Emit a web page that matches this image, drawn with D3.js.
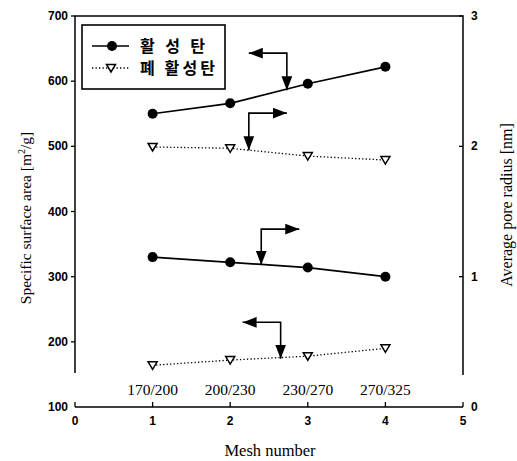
<!DOCTYPE html>
<html>
<head>
<meta charset="utf-8">
<script src="https://cdnjs.cloudflare.com/ajax/libs/d3/7.8.5/d3.min.js"></script>
<style>
  body { margin: 0; background: #fff; }
  .tick-label { font-family: "Liberation Sans", Arial, sans-serif; font-weight: bold; font-size: 12px; }
  .axis-title { font-family: "Liberation Serif", "Times New Roman", serif; font-size: 15.5px; }
  .mesh-label { font-family: "Liberation Serif", "Times New Roman", serif; font-size: 15.5px; }
  .legend-text { font-family: "Noto Sans CJK KR", sans-serif; font-weight: bold; font-size: 16px; }
</style>
</head>
<body>
<svg id="chart" width="517" height="461"></svg>
<script>
// data
var mesh = [1, 2, 3, 4];
var meshLabels = ["170/200", "200/230", "230/270", "270/325"];
var activeSurface = [550, 566, 596, 622];
var spentSurface = [499, 497, 485, 479];
var activeRadius = [1.15, 1.11, 1.07, 1.0];
var spentRadius = [0.32, 0.36, 0.39, 0.45];

var xTicks = [0, 1, 2, 3, 4, 5];
var leftTicks = [100, 200, 300, 400, 500, 600, 700];
var rightTicks = [0, 1, 2, 3];

var seriesNames = ["활성탄", "폐 활성탄"];
var legendWidths = [65, 75];

// arrow annotations, in [mesh, surface area] units
var arrows = [
  [[2.24, 643], [2.73, 643], [2.73, 586]],
  [[2.73, 551], [2.24, 551], [2.24, 494]],
  [[2.89, 373], [2.40, 373], [2.40, 318]],
  [[2.16, 230], [2.65, 230], [2.65, 174]]
];

var svg = d3.select("#chart");

var x = d3.scaleLinear().domain([0, 5]).range([75, 463]);
var yLeft = d3.scaleLinear().domain([100, 700]).range([407, 16]);
var yRight = d3.scaleLinear().domain([0, 3]).range([407, 16]);

var defs = svg.append("defs");
defs.append("marker")
  .attr("id", "head")
  .attr("viewBox", "0 0 13 10")
  .attr("refX", 13)
  .attr("refY", 5)
  .attr("markerWidth", 14)
  .attr("markerHeight", 11)
  .attr("markerUnits", "userSpaceOnUse")
  .attr("orient", "auto-start-reverse")
  .append("path")
  .attr("d", "M0,0 L13,5 L0,10 Z")
  .attr("fill", "#000");

var frameBottom = yLeft(152);

// frame: left, top, right (stops above the mesh labels)
svg.append("path")
  .attr("d", "M" + x(0) + "," + frameBottom + " V" + yLeft(700) + " H" + x(5) + " V" + (frameBottom + 2))
  .attr("fill", "none")
  .attr("stroke", "#000")
  .attr("stroke-width", 1.5);

// bottom axis line
svg.append("line")
  .attr("x1", x(0)).attr("x2", x(5))
  .attr("y1", yLeft(100)).attr("y2", yLeft(100))
  .attr("stroke", "#000")
  .attr("stroke-width", 1.5);

// x ticks (pointing up)
svg.selectAll(".xtick")
  .data(xTicks)
  .enter()
  .append("line")
  .attr("x1", function (d) { return x(d); })
  .attr("x2", function (d) { return x(d); })
  .attr("y1", yLeft(100))
  .attr("y2", yLeft(100) - 5)
  .attr("stroke", "#000")
  .attr("stroke-width", 1.3);

svg.selectAll(".xlabel")
  .data(xTicks)
  .enter()
  .append("text")
  .attr("class", "tick-label")
  .attr("x", function (d) { return x(d); })
  .attr("y", yLeft(100) + 18)
  .attr("text-anchor", "middle")
  .text(function (d) { return d; });

// left ticks (pointing out)
svg.selectAll(".ltick")
  .data(leftTicks.filter(function (d) { return d > 100; }))
  .enter()
  .append("line")
  .attr("x1", x(0) - 4)
  .attr("x2", x(0))
  .attr("y1", function (d) { return yLeft(d); })
  .attr("y2", function (d) { return yLeft(d); })
  .attr("stroke", "#000")
  .attr("stroke-width", 1.3);

svg.selectAll(".llabel")
  .data(leftTicks)
  .enter()
  .append("text")
  .attr("class", "tick-label")
  .attr("x", x(0) - 7)
  .attr("y", function (d) { return yLeft(d) + 4; })
  .attr("text-anchor", "end")
  .text(function (d) { return d; });

// right ticks (pointing in)
svg.selectAll(".rtick")
  .data(rightTicks.filter(function (d) { return d > 0; }))
  .enter()
  .append("line")
  .attr("x1", x(5) - 4)
  .attr("x2", x(5))
  .attr("y1", function (d) { return yRight(d); })
  .attr("y2", function (d) { return yRight(d); })
  .attr("stroke", "#000")
  .attr("stroke-width", 1.3);

svg.selectAll(".rlabel")
  .data(rightTicks)
  .enter()
  .append("text")
  .attr("class", "tick-label")
  .attr("x", x(5) + 8)
  .attr("y", function (d) { return yRight(d) + 4; })
  .attr("text-anchor", "start")
  .text(function (d) { return d; });

// mesh labels inside the plot
svg.selectAll(".mesh-label")
  .data(mesh)
  .enter()
  .append("text")
  .attr("class", "mesh-label")
  .attr("x", function (d) { return x(d); })
  .attr("y", 395)
  .attr("text-anchor", "middle")
  .text(function (d, i) { return meshLabels[i]; });

// axis titles
svg.append("text")
  .attr("class", "axis-title")
  .attr("x", 270)
  .attr("y", 456)
  .attr("text-anchor", "middle")
  .style("font-size", "16.5px")
  .text("Mesh number");

svg.append("text")
  .attr("class", "axis-title")
  .attr("transform", "translate(31,218) rotate(-90)")
  .attr("text-anchor", "middle")
  .html("Specific surface area [m<tspan dy='-6' font-size='10'>2</tspan><tspan dy='6'>/g]</tspan>");

svg.append("text")
  .attr("class", "axis-title")
  .attr("transform", "translate(512,205) rotate(-90)")
  .attr("text-anchor", "middle")
  .style("font-size", "16px")
  .text("Average pore radius [nm]");

//draw one series: solid with dots or dotted with open triangles
function drawSeries(values, yScale, dotted) {
  var pts = mesh.map(function (m, i) { return [x(m), yScale(values[i])]; });
  svg.append("path")
    .attr("d", d3.line()(pts))
    .attr("fill", "none")
    .attr("stroke", "#000")
    .attr("stroke-width", dotted ? 1.3 : 1.7)
    .attr("stroke-dasharray", dotted ? "1.3,2.2" : null);

  if (dotted) {
    svg.selectAll(null)
      .data(pts)
      .enter()
      .append("path")
      .attr("d", function (p) {
        return "M" + (p[0] - 4.5) + "," + (p[1] - 3.5) + " L" + (p[0] + 4.5) + "," + (p[1] - 3.5) + " L" + p[0] + "," + (p[1] + 4) + " Z";
      })
      .attr("fill", "#fff")
      .attr("stroke", "#000")
      .attr("stroke-width", 1.5);
  } else {
    svg.selectAll(null)
      .data(pts)
      .enter()
      .append("circle")
      .attr("cx", function (p) { return p[0]; })
      .attr("cy", function (p) { return p[1]; })
      .attr("r", 5)
      .attr("fill", "#000");
  }
}

drawSeries(activeSurface, yLeft, false);
drawSeries(spentSurface, yLeft, true);
drawSeries(activeRadius, yRight, false);
drawSeries(spentRadius, yRight, true);

// arrows pointing to the matching axis
svg.selectAll(".arrow")
  .data(arrows)
  .enter()
  .append("path")
  .attr("class", "arrow")
  .attr("d", function (a) {
    return d3.line()(a.map(function (p) { return [x(p[0]), yLeft(p[1])]; }));
  })
  .attr("fill", "none")
  .attr("stroke", "#000")
  .attr("stroke-width", 1.6)
  .attr("marker-start", "url(#head)")
  .attr("marker-end", "url(#head)");

// legend
var legend = svg.append("g").attr("transform", "translate(82,25)");
legend.append("rect")
  .attr("width", 143)
  .attr("height", 64)
  .attr("fill", "#fff")
  .attr("stroke", "#000")
  .attr("stroke-width", 1.6);

var rows = legend.selectAll(".legend-row")
  .data(seriesNames)
  .enter()
  .append("g")
  .attr("class", "legend-row")
  .attr("transform", function (d, i) { return "translate(0," + (21 + i * 22) + ")"; });

rows.append("line")
  .attr("x1", 10).attr("x2", 47)
  .attr("stroke", "#000")
  .attr("stroke-width", function (d, i) { return i ? 1.3 : 1.7; })
  .attr("stroke-dasharray", function (d, i) { return i ? "1.3,2.2" : null; });

rows.filter(function (d, i) { return i === 0; })
  .append("circle")
  .attr("cx", 30).attr("r", 5).attr("fill", "#000");

rows.filter(function (d, i) { return i === 1; })
  .append("path")
  .attr("d", "M24.5,-3.5 L33.5,-3.5 L29,4 Z")
  .attr("fill", "#fff")
  .attr("stroke", "#000")
  .attr("stroke-width", 1.5);

rows.append("text")
  .attr("class", "legend-text")
  .attr("x", 58)
  .attr("y", 6)
  .attr("textLength", function (d, i) { return legendWidths[i]; })
  .attr("lengthAdjust", "spacing")
  .text(function (d) { return d; });
</script>
</body>
</html>
